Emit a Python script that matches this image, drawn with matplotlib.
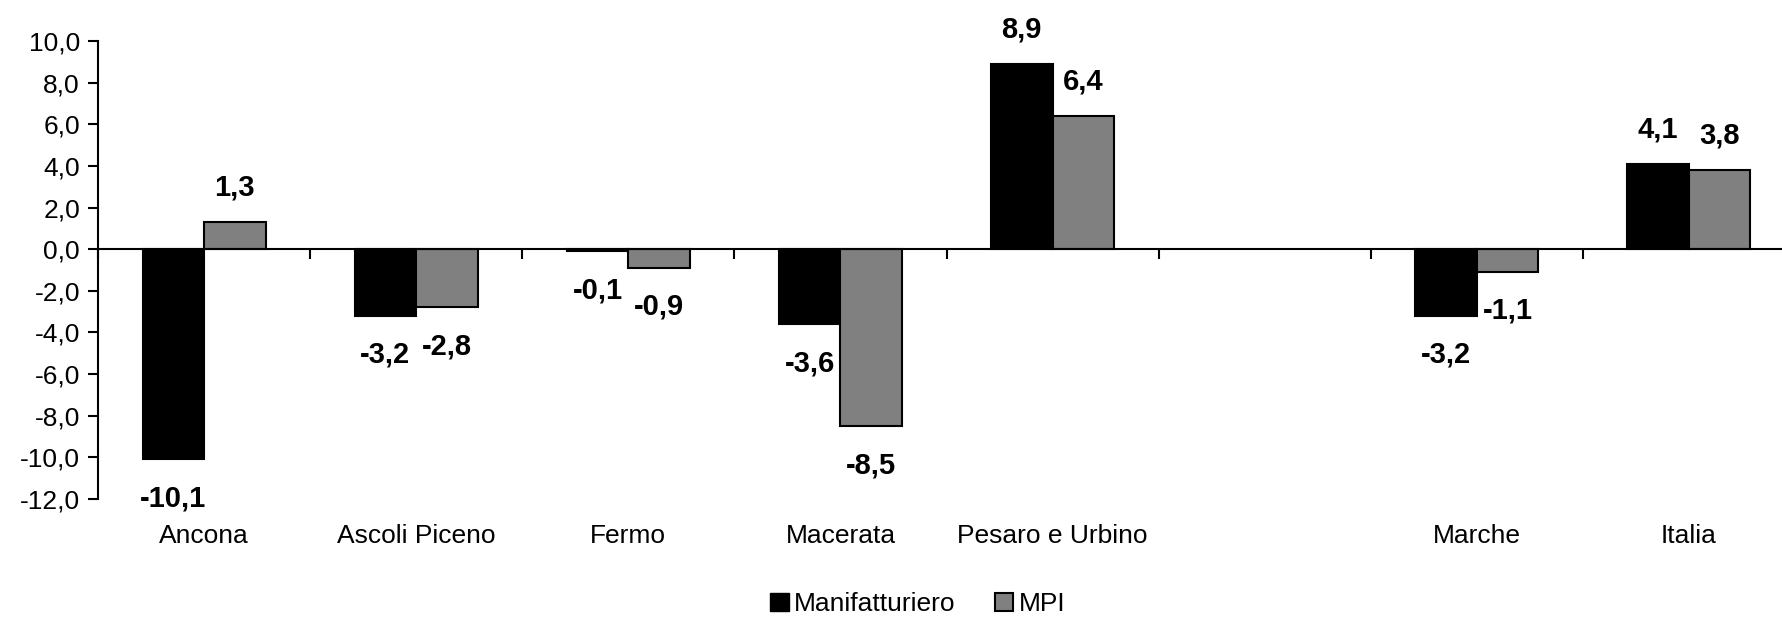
import numpy as np
import matplotlib
matplotlib.use("Agg")
import matplotlib.pyplot as plt
from matplotlib.patches import Patch
from matplotlib import font_manager

# data
categories = ["Ancona", "Ascoli Piceno", "Fermo", "Macerata", "Pesaro e Urbino", "", "Marche", "Italia"]
manifatturiero = [-10.1, -3.2, -0.1, -3.6, 8.9, np.nan, -3.2, 4.1]
mpi = [1.3, -2.8, -0.9, -8.5, 6.4, np.nan, -1.1, 3.8]
yticks = np.arange(-12, 11, 2)

names = {f.name for f in font_manager.fontManager.ttflist}
fam = "Liberation Sans Narrow" if "Liberation Sans Narrow" in names else "Liberation Sans"
plt.rcParams['font.family'] = [fam, 'DejaVu Sans']

fig = plt.figure(figsize=(17.82, 6.21), dpi=100)
ax = fig.add_axes([98 / 1782, 1 - 499 / 621, 1697 / 1782, 458 / 621])

x = np.arange(len(categories))
w = 0.29
b1 = ax.bar(x - w / 2, manifatturiero, w, color="black", edgecolor="black", linewidth=1.5, label="Manifatturiero")
b2 = ax.bar(x + w / 2, mpi, w, color="#808080", edgecolor="black", linewidth=1.5, label="MPI")

def fmt(v):
    return f"{v:.1f}".replace(".", ",")

for bars, vals in [(b1, manifatturiero), (b2, mpi)]:
    for rect, v in zip(bars, vals):
        if np.isnan(v):
            continue
        off = 25 if v >= 0 else -28
        ax.annotate(fmt(v), (rect.get_x() + rect.get_width() / 2, v),
                    xytext=(0, off), textcoords="offset points",
                    ha="center", va="center", fontsize=21, fontweight="bold")

ax.set_xlim(-0.5, len(categories) - 0.5)
ax.set_ylim(-12, 10)
ax.set_yticks(yticks)
ax.set_yticklabels([fmt(t) for t in yticks], fontsize=19)
ax.tick_params(axis="y", direction="out", length=7, width=1.5, pad=6)

# x axis at zero, ticks at category boundaries
for s in ["top", "right"]:
    ax.spines[s].set_visible(False)
ax.spines["bottom"].set_position(("data", 0))
ax.spines["bottom"].set_linewidth(1.5)
ax.spines["left"].set_linewidth(1.5)
ax.set_xticks(np.arange(-0.5, len(categories) + 0.5, 1))
ax.set_xticklabels([])
ax.tick_params(axis="x", direction="out", length=7, width=1.5)

for xi, c in zip(x, categories):
    ax.text(xi, -0.08, c, transform=ax.get_xaxis_transform(), ha="center", va="center", fontsize=19)

handles = [Patch(facecolor="black", edgecolor="black", label="Manifatturiero"),
           Patch(facecolor="#808080", edgecolor="black", linewidth=1.5, label="MPI")]
fig.legend(handles=handles, loc="center", bbox_to_anchor=(0.515, 0.027), ncol=2, frameon=False,
           fontsize=19, handlelength=0.7, handleheight=0.7, handletextpad=0.2, columnspacing=1.5)

fig.savefig("out.png", dpi=100)
